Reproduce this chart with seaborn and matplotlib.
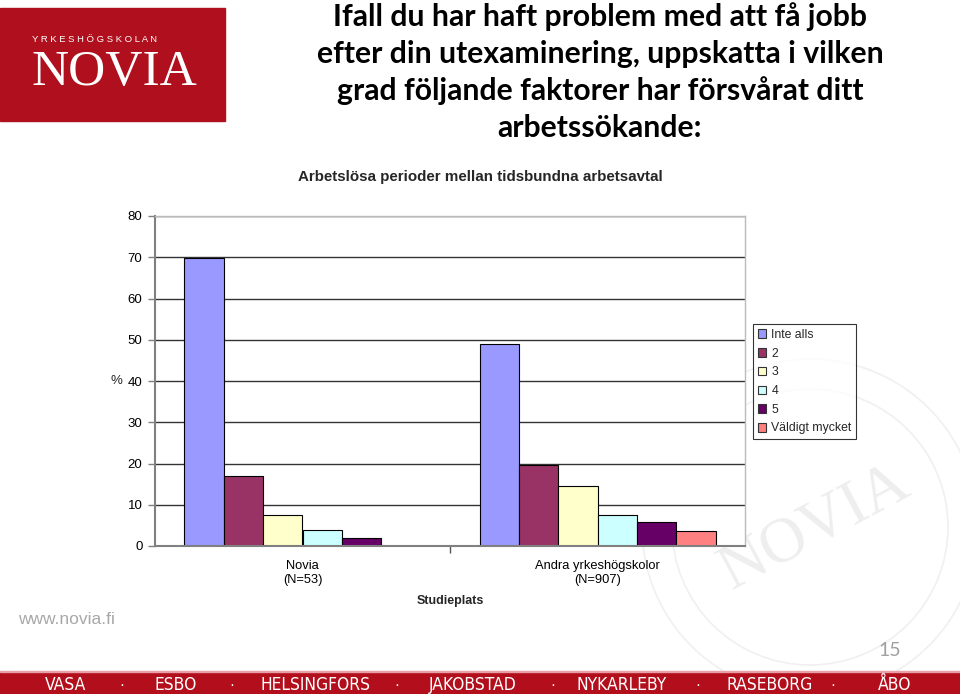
import numpy as np
import pandas as pd
import seaborn as sns
import matplotlib.pyplot as plt
from matplotlib.patches import Rectangle, Ellipse, Patch

# data
groups = ['Novia\n(N=53)', 'Andra yrkeshögskolor\n(N=907)']
answers = ['Inte alls', '2', '3', '4', '5', 'Väldigt mycket']
novia = [69.8, 17.0, 7.5, 3.8, 1.9, 0.0]
andra = [49.0, 19.7, 14.6, 7.5, 5.8, 3.7]
colors = ['#9999FF', '#993366', '#FFFFCC', '#CCFFFF', '#660066', '#FF8080']
cities = ['VASA', 'ESBO', 'HELSINGFORS', 'JAKOBSTAD', 'NYKARLEBY', 'RASEBORG', 'ÅBO']

rows = []
for g, vals in zip(groups, [novia, andra]):
    for a, v in zip(answers, vals):
        rows.append({'Studieplats': g, 'Svar': a, 'Procent': v})
df = pd.DataFrame(rows)

sns.set_theme(style='white')
plt.rcParams['font.family'] = ['Liberation Sans', 'DejaVu Sans']

W, H = 960, 694
fig = plt.figure(figsize=(9.6, 6.94), dpi=100)
fig.patch.set_facecolor('white')

def fx(px):
    return px / W

def fy(py):
    return 1 - py / H

# faint watermark seal
wm = '#F0F0F0'
for r in [168, 138]:
    fig.patches.append(Ellipse((fx(810), fy(527)), 2 * r / W, 2 * r / H, transform=fig.transFigure,
                               fill=False, ec=wm, lw=1.2, zorder=0))
fig.text(fx(815), fy(528), 'NOVIA', color='#EEEEEE', fontsize=46, rotation=28,
         ha='center', va='center', family='Liberation Serif', zorder=0)

# logo
fig.patches.append(Rectangle((0, fy(121)), fx(225), (121 - 8) / H, transform=fig.transFigure,
                             color='#B0101E', zorder=1))
fig.text(fx(32), fy(40), 'Y R K E S H Ö G S K O L A N', color='white', fontsize=6.8,
         va='center', ha='left')
fig.text(fx(114), fy(73), 'NOVIA', color='white', fontsize=37, va='center', ha='center',
         family='Liberation Serif')

# slide title
fig.text(fx(600), fy(72),
         'Ifall du har haft problem med att få jobb\nefter din utexaminering, uppskatta i vilken\n'
         'grad följande faktorer har försvårat ditt\narbetssökande:',
         ha='center', va='center', fontsize=21.7, fontweight='bold', family=['Lato', 'DejaVu Sans'],
         linespacing=1.37, color='black')

# chart
ax = fig.add_axes([fx(155), fy(546), fx(745 - 155), (546 - 216) / H])
ax.set_zorder(3)
ax.set_facecolor('white')
sns.barplot(data=df, x='Studieplats', y='Procent', hue='Svar', hue_order=answers,
            palette=colors, saturation=1, edgecolor='black', linewidth=0.8, width=0.8,
            ax=ax, legend=False)
ax.set_xlim(-0.5, 1.5)
ax.set_ylim(0, 80)
ax.set_yticks(range(0, 81, 10))
ax.yaxis.grid(True, color='#333333', lw=1.0)
ax.set_axisbelow(True)
for s in ['left', 'bottom']:
    ax.spines[s].set_color('#808080')
    ax.spines[s].set_linewidth(1.5)
for s in ['top', 'right']:
    ax.spines[s].set_color('#BBBBBB')
    ax.spines[s].set_linewidth(1.0)
ax.tick_params(axis='y', length=5, width=1, color='#808080', labelsize=9.5, pad=4,
               left=True, labelcolor='black')
ax.tick_params(axis='x', length=0, labelsize=9.3, pad=10, labelcolor='black')
ax.set_xticks([0.5], minor=True)
ax.tick_params(axis='x', which='minor', length=5, width=1, color='#555555', bottom=True)
ax.set_ylabel('%', rotation=0, fontsize=9.5, va='center', ha='center')
ax.yaxis.set_label_coords(-0.066, 0.5)
ax.set_xlabel('Studieplats', fontsize=9, fontweight='bold', labelpad=7)
fig.text(fx(480), fy(177), 'Arbetslösa perioder mellan tidsbundna arbetsavtal',
         ha='center', va='center', fontsize=10.9, fontweight='bold')

handles = [Patch(facecolor=c, edgecolor='#333333', lw=0.8) for c in colors]
leg = fig.legend(handles, answers, loc='upper left', bbox_to_anchor=(fx(753), fy(324)),
                 bbox_transform=fig.transFigure, fontsize=8.8, frameon=True, fancybox=False,
                 handlelength=0.7, handleheight=0.7, handletextpad=0.4, labelspacing=0.55,
                 borderpad=0.4, borderaxespad=0)
leg.get_frame().set_edgecolor('black')
leg.get_frame().set_linewidth(0.8)
leg.set_zorder(4)

# footer
fig.text(fx(18), fy(620), 'www.novia.fi', color='#A8A8A8', fontsize=12.5, va='center')
fig.text(fx(890), fy(650), '15', color='#A0A0A0', fontsize=14, va='center', ha='center',
         family=['Lato', 'DejaVu Sans'])
fig.patches.append(Rectangle((0, 0), 1, 22 / H, transform=fig.transFigure, color='#B20E1C', zorder=1))
fig.patches.append(Rectangle((0, 22 / H), 1, 1.5 / H, transform=fig.transFigure, color='#E8A0A6', zorder=1))
city_x = [66, 176, 315, 473, 622, 770, 895]
dot_x = [122, 232, 397, 553, 698, 833]
for cx, name in zip(city_x, cities):
    fig.text(fx(cx), fy(690), name, color='white', fontsize=12.5, ha='center', va='baseline',
             family=['DejaVu Sans'], fontstretch='condensed', zorder=2)
for dx in dot_x:
    fig.text(fx(dx), fy(684), '·', color='white', fontsize=11, ha='center', va='center_baseline', zorder=2)

plt.savefig('out.png', dpi=100)
